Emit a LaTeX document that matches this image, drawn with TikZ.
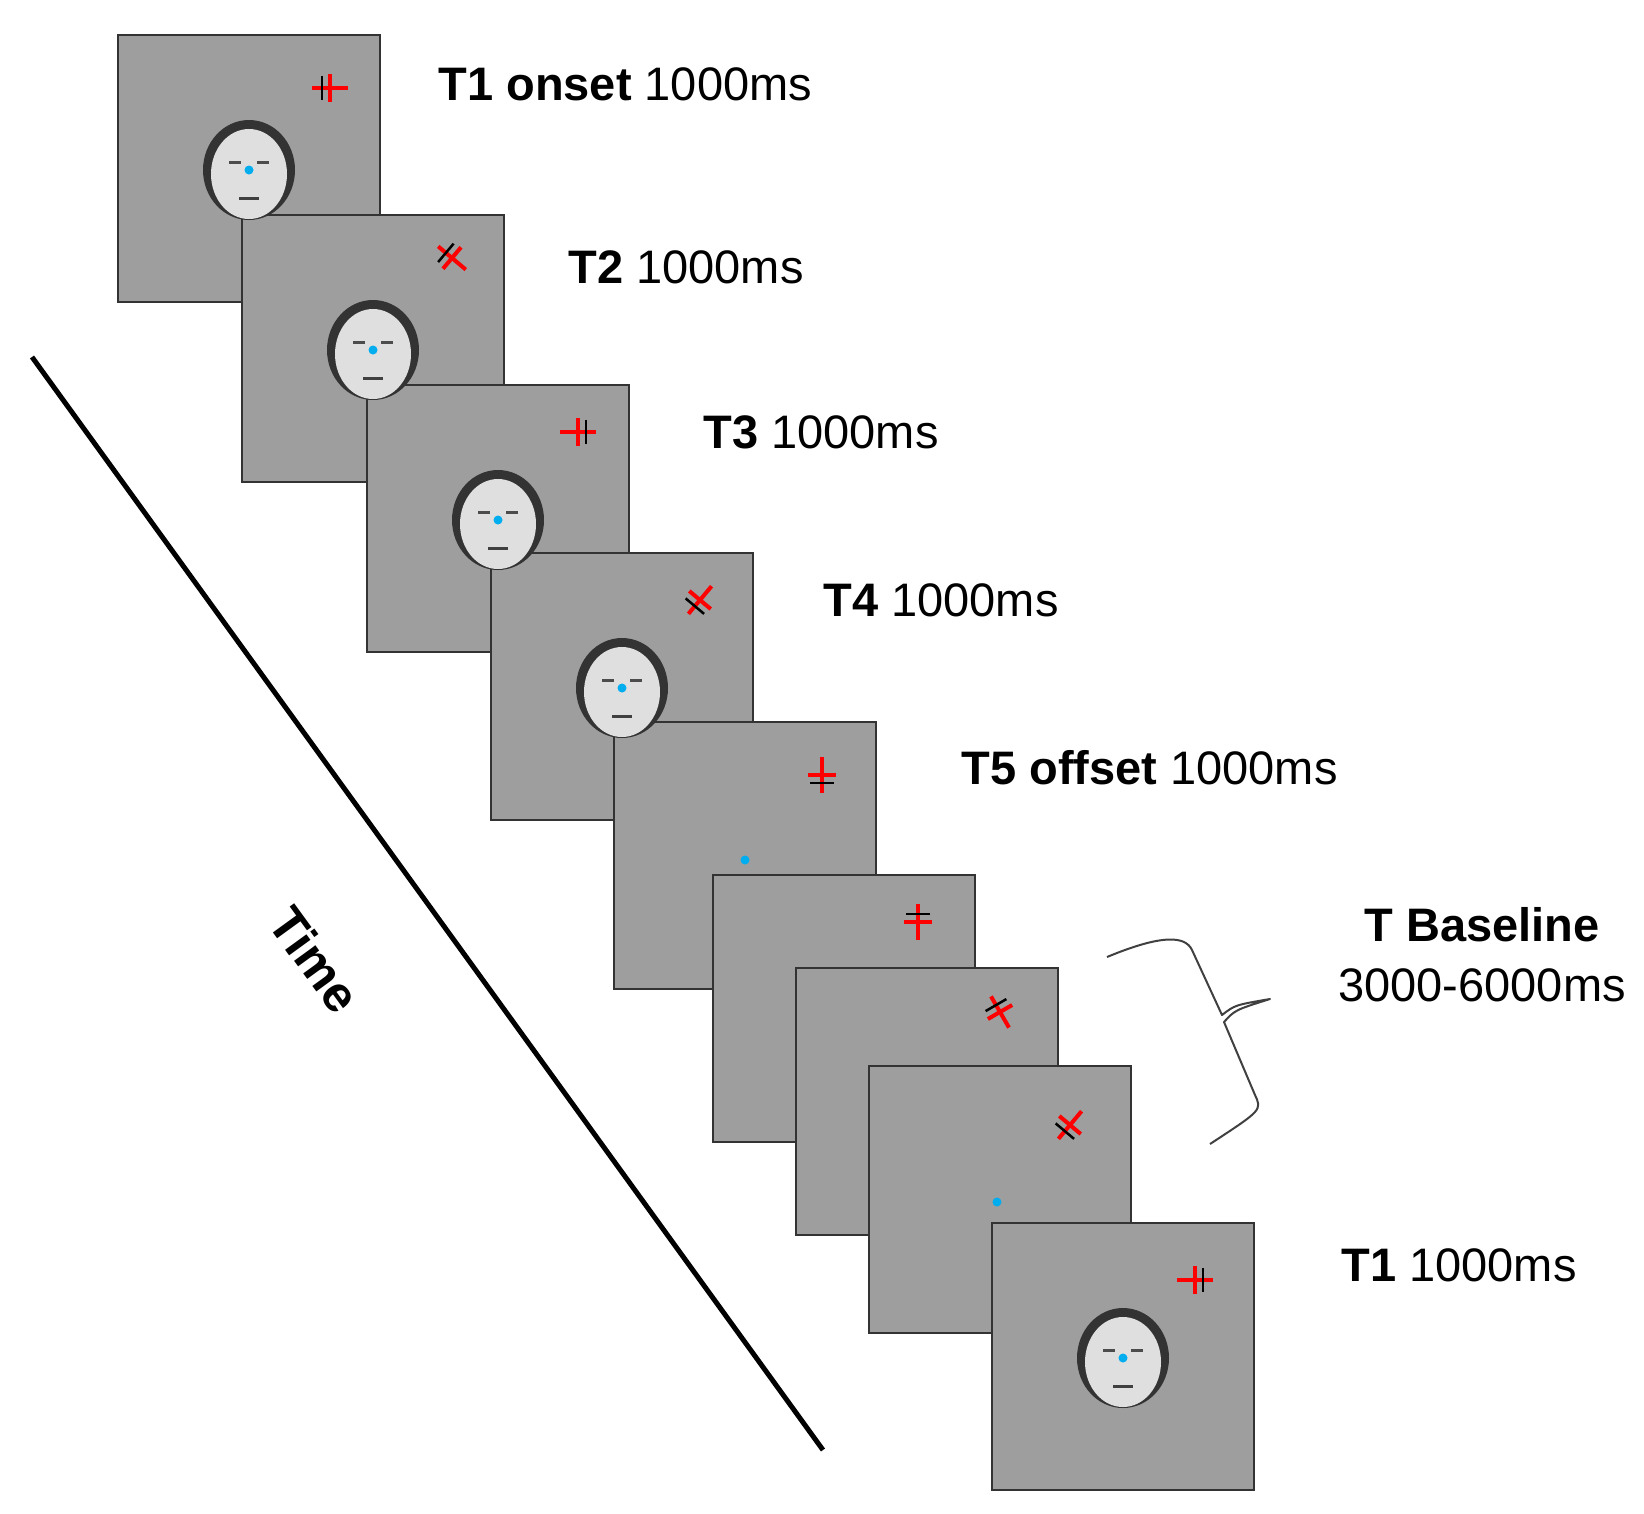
\documentclass[tikz,border=0pt]{standalone}
\usepackage{fontspec}
\setmainfont{Liberation Sans}
\begin{document}
\begin{tikzpicture}[x=1pt,y=-1pt,
 panel/.style={draw=black!80,line width=2pt,fill=pgray,minimum width=262pt,minimum height=267pt,inner sep=0pt},
 lab/.style={anchor=west,font=\fontsize{47}{54}\selectfont},
 face/.pic={\fill[black!80](0,0) ellipse (46 and 50);\fill[gray!25](0,4) ellipse (38 and 45);
  \draw[line width=3pt,black!70](-20,-8)--(-8,-8) (8,-8)--(20,-8);\draw[line width=3pt,black!75](-10,28)--(10,28);
  \fill[cyan](0,0) circle (4.5);},
 mark/.pic={\draw[red,line width=4pt](-18,0)--(18,0) (0,-14)--(0,14);\draw[black,line width=2.5pt](-8,-12)--(-8,12);}]
\definecolor{pgray}{RGB}{158,158,158}
\useasboundingbox (0,0) rectangle (1644,1513);
\draw[line width=5pt] (32,357) coordinate(ts) -- (823,1450) coordinate(te);
\node[rotate=-54,font=\bfseries\fontsize{50}{56}\selectfont] (time) at (315,960) {Time};
\node[panel] (p1) at (249,168) {};
\node[panel] (p2) at (373,348) {};
\node[panel] (p3) at (498,518) {};
\node[panel] (p4) at (622,686) {};
\node[panel] (p5) at (745,855) {};
\node[panel] (p6) at (844,1008) {};
\node[panel] (p7) at (927,1101) {};
\node[panel] (p8) at (1000,1199) {};
\node[panel] (p9) at (1123,1356) {};
\pic at (249,170) {face}; \pic at (373,350) {face}; \pic at (498,520) {face};
\pic at (622,688) {face}; \pic at (1123,1358) {face};
\fill[cyan] (745,860) circle (4.5); \fill[cyan] (997,1202) circle (4.5);
\pic[rotate=0] at (330,88) {mark}; \pic[rotate=-40] at (452,258) {mark};
\pic[rotate=180] at (578,432) {mark}; \pic[rotate=50] at (700,600) {mark};
\pic[rotate=90] at (822,775) {mark}; \pic[rotate=-90] at (918,922) {mark};
\pic[rotate=-60] at (1000,1012) {mark}; \pic[rotate=50] at (1070,1125) {mark};
\pic[rotate=180] at (1195,1280) {mark};
\node[lab] (l1) at (435,84) {\textbf{T1 onset} 1000ms};
\node[lab] (l2) at (565,267) {\textbf{T2} 1000ms};
\node[lab] (l3) at (700,432) {\textbf{T3} 1000ms};
\node[lab] (l4) at (820,600) {\textbf{T4} 1000ms};
\node[lab] (l5) at (958,768) {\textbf{T5 offset} 1000ms};
\node[font=\fontsize{47}{60}\selectfont,align=center] (lb) at (1482,955) {\textbf{T Baseline}\\3000-6000ms};
\node[lab] (l9) at (1338,1265) {\textbf{T1} 1000ms};
\draw[black!75,line width=2pt,line join=round] (1107,957) .. controls (1160,935) and (1185,935) .. (1192,950)
 -- (1222,1015) .. controls (1235,1005) .. (1270,999)
 .. controls (1235,1010) .. (1224,1022) -- (1255,1095) .. controls (1262,1110) .. (1210,1144);
\end{tikzpicture}
\end{document}
